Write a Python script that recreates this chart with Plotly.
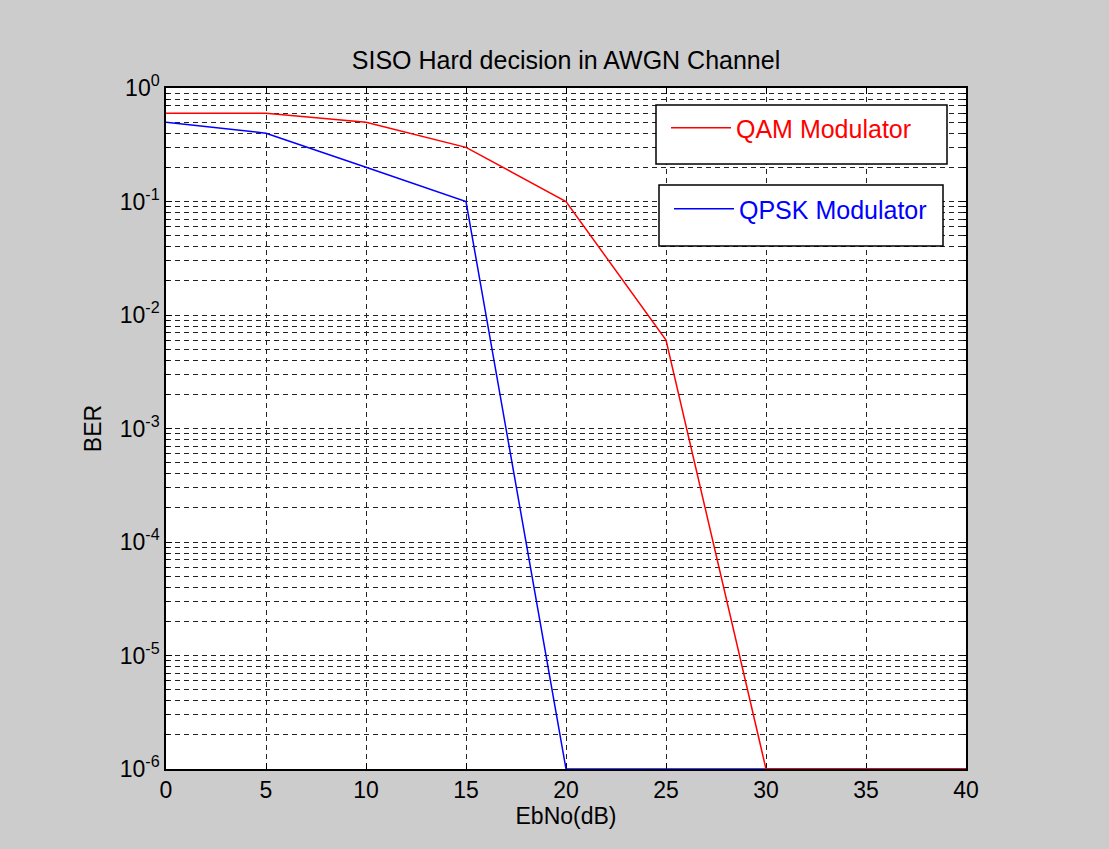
import plotly.graph_objects as go

ebno_db = [0, 5, 10, 15, 20, 25, 30, 35, 40]
qam_ber = [0.6, 0.6, 0.5, 0.3, 0.1, 0.006, 1e-6, 1e-6, 1e-6]
qpsk_ber = [0.5, 0.4, 0.2, 0.1, 1e-6, 1e-6, 1e-6, 1e-6, 1e-6]

y_tickvals = [1e-6, 1e-5, 1e-4, 1e-3, 1e-2, 1e-1, 1]
y_ticktext = ["10<sup>-6</sup>", "10<sup>-5</sup>", "10<sup>-4</sup>", "10<sup>-3</sup>",
              "10<sup>-2</sup>", "10<sup>-1</sup>", "10<sup>0</sup>"]
x_tickvals = [0, 5, 10, 15, 20, 25, 30, 35, 40]

FONT = "Liberation Sans, Arial, sans-serif"
GRID = "#222222"

fig = go.Figure()
fig.add_trace(go.Scatter(x=ebno_db, y=qpsk_ber, mode="lines", name="QPSK Modulator",
                         line=dict(color="#0000ff", width=1.5), legend="legend2"))
fig.add_trace(go.Scatter(x=ebno_db, y=qam_ber, mode="lines", name="QAM Modulator",
                         line=dict(color="#ff0000", width=1.5), legend="legend"))

L, R, T, B = 166, 966, 88, 769
W, H = 1109, 849

def px(x):
    return (x - L) / (R - L)

def py(y):
    return (B - y) / (B - T)

shapes = [
    dict(type="rect", xref="paper", yref="paper", x0=px(656), x1=px(947), y0=py(164), y1=py(105),
         fillcolor="white", line=dict(color="black", width=1.5), layer="above"),
    dict(type="rect", xref="paper", yref="paper", x0=px(659), x1=px(943), y0=py(246), y1=py(185),
         fillcolor="white", line=dict(color="black", width=1.5), layer="above"),
]

legend_common = dict(bgcolor="rgba(0,0,0,0)", borderwidth=0, xanchor="left", yanchor="middle",
                     itemwidth=60, visible=True)

fig.update_layout(
    width=W, height=H, showlegend=True,
    paper_bgcolor="#cccccc", plot_bgcolor="white",
    margin=dict(l=L, r=W - R, t=T, b=H - B),
    title=dict(text="SISO Hard decision in AWGN Channel", x=566 / W,
               xanchor="center", y=1 - 60 / H, yanchor="middle",
               font=dict(family=FONT, size=25, color="black")),
    font=dict(family=FONT, size=23, color="black"),
    shapes=shapes,
    legend=dict(x=px(666), y=py(128), font=dict(family=FONT, size=25, color="#ff0000"),
                **legend_common),
    legend2=dict(x=px(669), y=py(209), font=dict(family=FONT, size=25, color="#0000ff"),
                 **legend_common),
    xaxis=dict(range=[0, 40], tickvals=x_tickvals, showgrid=True, gridcolor=GRID,
               griddash="5px,4px", gridwidth=1, zeroline=False,
               showline=True, linecolor="black", linewidth=1.5, mirror="allticks",
               ticks="inside", ticklen=6, tickcolor="black", layer="below traces",
               title=dict(text="EbNo(dB)", font=dict(size=23), standoff=4),
               tickfont=dict(size=23)),
    yaxis=dict(type="log", range=[-6, 0], tickvals=y_tickvals, ticktext=y_ticktext,
               showgrid=True, gridcolor=GRID, griddash="5px,4px", gridwidth=1, zeroline=False,
               showline=True, linecolor="black", linewidth=1.5, mirror="allticks",
               ticks="inside", ticklen=6, tickcolor="black", layer="below traces",
               minor=dict(dtick="D1", showgrid=True, gridcolor=GRID, griddash="5px,4px",
                          gridwidth=1, ticks="inside", ticklen=3, tickcolor="black"),
               title=dict(text="BER", font=dict(size=23), standoff=12),
               tickfont=dict(size=23)),
)

fig.write_html("out.html", config={"displayModeBar": False},
               post_script="document.body.style.margin='0';document.body.style.background='#cccccc';")
